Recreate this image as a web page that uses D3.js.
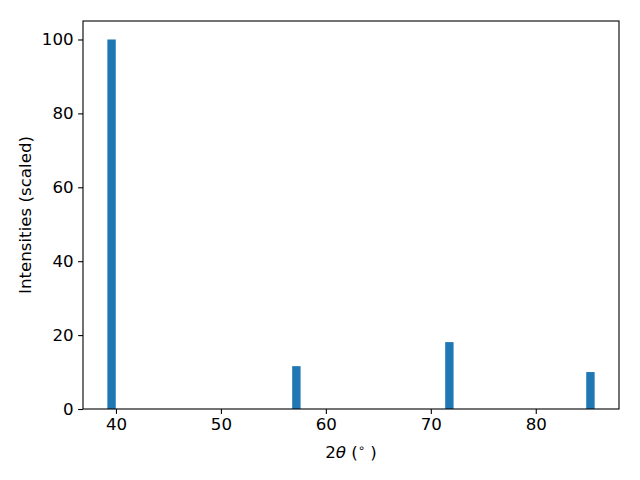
<!DOCTYPE html>
<html>
<head>
<meta charset="utf-8">
<script src="https://cdn.jsdelivr.net/npm/d3@7"></script>
<style>
html,body{margin:0;padding:0;background:#fff;}
svg{display:block;}
text{font-family:"DejaVu Sans",sans-serif;}
</style>
</head>
<body>
<script>
// Data
const twoTheta = [39.58, 57.19, 71.77, 85.21];
const intensity = [100, 11.6, 18.1, 10.0];
const barWidth = 0.8;
const xTicks = [40, 50, 60, 70, 80];
const yTicks = [0, 20, 40, 60, 80, 100];

const W = 640, H = 480;
const L = 83, R = 619, T = 21, B = 409;

const svg = d3.select("body").append("svg").attr("width", W).attr("height", H);

const xmin = d3.min(twoTheta) - barWidth/2, xmax = d3.max(twoTheta) + barWidth/2;
const pad = (xmax - xmin) * 0.05;
const x = d3.scaleLinear().domain([xmin - pad, xmax + pad]).range([L, R]);
const y = d3.scaleLinear().domain([0, d3.max(intensity) * 1.05]).range([B, T]);

const data = twoTheta.map((t, i) => ({t, v: intensity[i]}));

svg.append("g").selectAll("rect").data(data).enter().append("rect")
  .attr("x", d => x(d.t - barWidth/2))
  .attr("width", d => x(d.t + barWidth/2) - x(d.t - barWidth/2))
  .attr("y", d => y(d.v))
  .attr("height", d => y(0) - y(d.v))
  .attr("fill", "#1f77b4");

const xAxis = d3.axisBottom(x).tickValues(xTicks).tickSize(4.9).tickPadding(4.5).tickFormat(d3.format("d"));
const yAxis = d3.axisLeft(y).tickValues(yTicks).tickSize(4.9).tickPadding(4.5).tickFormat(d3.format("d"));

const gx = svg.append("g").attr("transform", `translate(0,${B})`).call(xAxis);
const gy = svg.append("g").attr("transform", `translate(${L},0)`).call(yAxis);
[gx, gy].forEach(g => {
  g.select(".domain").remove();
  g.selectAll("line").attr("stroke", "#000").attr("stroke-width", 1.1);
  g.selectAll("text").attr("font-size", "16.67px").attr("fill", "#000").attr("font-family", "DejaVu Sans");
});

// frame
svg.append("rect").attr("x", L).attr("y", T).attr("width", R - L).attr("height", B - T)
  .attr("fill", "none").attr("stroke", "#000").attr("stroke-width", 1.1);

// x label
const xl = svg.append("text").attr("x", (L + R) / 2).attr("y", 458)
  .attr("text-anchor", "middle").attr("font-size", "16.67px").attr("fill", "#000");
xl.append("tspan").text("2");
xl.append("tspan").attr("font-style", "italic").text("θ");
xl.append("tspan").text(" (");
xl.append("tspan").attr("font-size", "11.5px").attr("dy", -6).text("∘");
xl.append("tspan").attr("dy", 6).text(" )");

// y label
svg.append("text").attr("transform", `translate(31,${(T + B) / 2}) rotate(-90)`)
  .attr("text-anchor", "middle").attr("font-size", "16.67px").attr("fill", "#000")
  .text("Intensities (scaled)");
</script>
</body>
</html>
